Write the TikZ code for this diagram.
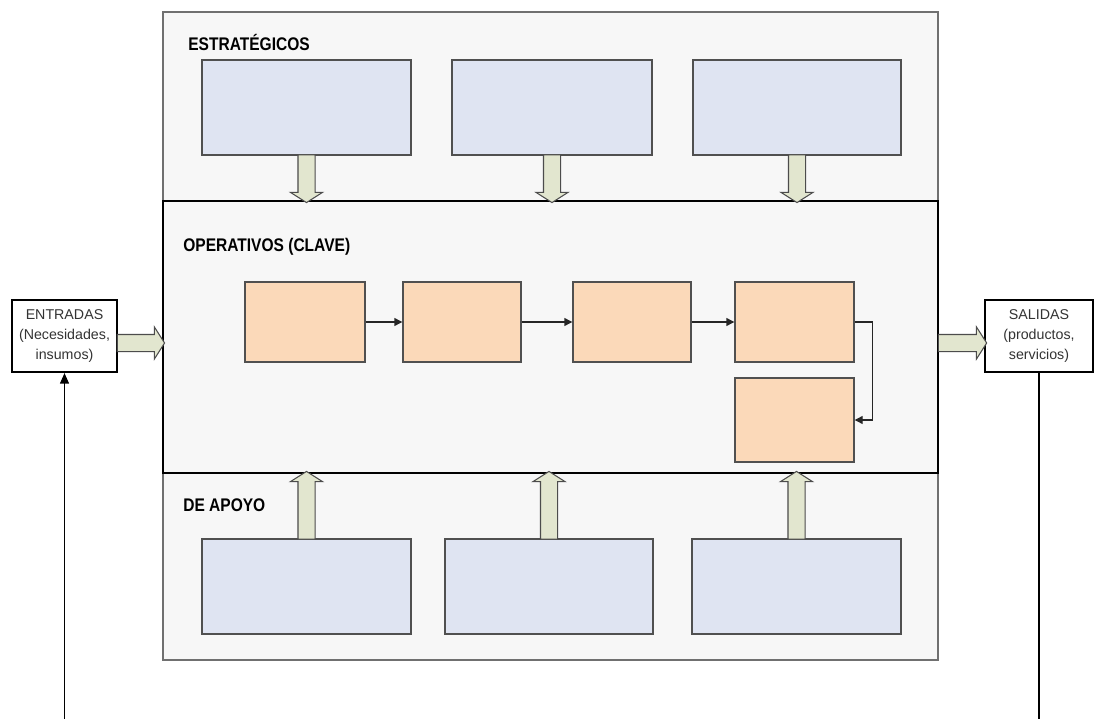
\documentclass[tikz,border=0pt]{standalone}
\usepackage{fontspec}
\setmainfont{Liberation Sans}
\newfontfamily\tagfont[FakeStretch=0.85]{Liberation Sans}
\usetikzlibrary{arrows.meta,calc,shapes.arrows}
\definecolor{framefill}{HTML}{F7F7F7}
\definecolor{framedraw}{HTML}{707070}
\definecolor{bluebox}{HTML}{DFE4F2}
\definecolor{peachbox}{HTML}{FBD9B9}
\definecolor{arrowfill}{HTML}{E2E6CF}
\definecolor{boxdraw}{HTML}{505050}
\newdimen\px
\px=0.02cm
\newcommand{\fatarrow}[3]{%
  \path let \p1=($(#1)!-0.07cm!(#2)$), \p2=(#2), \n1={veclen(\x2-\x1,\y2-\y1)} in
    node[fatarrow, minimum height=\n1, rotate=#3] at ($(\p1)!0.5!(\p2)$) {};
}

\begin{document}
\begin{tikzpicture}[x=1\px,y=-1\px,
 tag/.style={anchor=west,inner sep=0pt,font=\tagfont\bfseries\fontsize{10.4pt}{12pt}\selectfont},
 estbox/.style={draw=boxdraw,fill=bluebox,line width=0.8pt,minimum width=209\px,minimum height=95\px},
 opbox/.style={draw=boxdraw,fill=peachbox,line width=0.8pt,minimum width=119\px,minimum height=80\px},
 iobox/.style={draw=black,fill=white,line width=1.2pt,minimum width=106\px,minimum height=72\px,
   inner sep=0pt,align=center,text=black!80,font=\fontsize{8.1pt}{11.2pt}\selectfont},
 fatarrow/.style={single arrow,draw=black!70,fill=arrowfill,line width=0.6pt,inner xsep=0pt,
   inner ysep=8\px,outer sep=0pt,single arrow head extend=7.5\px,single arrow tip angle=115},
 flow/.style={-{Triangle[length=4.5pt,width=4.5pt]},line width=0.7pt,black!85},
 feedback/.style={line width=1pt,black}]

\useasboundingbox[fill=white] (0,0) rectangle (1094,719);

% process map frame and the key process band
\node[draw=framedraw,fill=framefill,line width=1pt,minimum width=775\px,minimum height=648\px]
  (marco) at (550.5,336) {};
\node[draw=black,fill=framefill,line width=1.3pt,minimum width=775\px,minimum height=272\px]
  (oper) at (550.5,337) {};

\node[tag] (lblest) at (188,42) {ESTRATÉGICOS};
\node[tag] (lblop) at (183,247) {OPERATIVOS (CLAVE)};
\node[tag] (lblapo) at (183,505) {DE APOYO};

\node[estbox] (est1) at (306.5,107.5) {};
\node[estbox,minimum width=200\px] (est2) at (552,107.5) {};
\node[estbox,minimum width=208\px] (est3) at (797,107.5) {};
\node[estbox] (apo1) at (306.5,586.5) {};
\node[estbox,minimum width=208\px] (apo2) at (549,586.5) {};
\node[estbox] (apo3) at (796.5,586.5) {};

\node[opbox,minimum width=120\px] (op1) at (305,322) {};
\node[opbox,minimum width=118\px] (op2) at (462,322) {};
\node[opbox,minimum width=118\px] (op3) at (632,322) {};
\node[opbox] (op4) at (794.5,322) {};
\node[opbox,minimum height=84\px] (op5) at (794.5,420) {};

\draw[flow] (op1) -- (op2);
\draw[flow] (op2) -- (op3);
\draw[flow] (op3) -- (op4);
\draw[flow] (op4.east) -- ++(18,0) |- (op5.east);

\node[iobox,minimum width=105\px] (ent) at (64.5,336) {ENTRADAS\\(Necesidades,\\insumos)};
\node[iobox,minimum width=108\px] (sal) at (1039,336) {SALIDAS\\(productos,\\servicios)};

\foreach \blk in {est1,est2,est3}{
  \fatarrow{\blk.south}{\blk.south |- oper.north}{-90}
}
\foreach \blk in {apo1,apo2,apo3}{
  \fatarrow{\blk.north}{\blk.north |- oper.south}{90}
}
\coordinate (entout) at ($(ent.east)+(0,7)$);
\coordinate (salout) at ($(sal.west)+(0,7)$);
\fatarrow{entout}{entout -| oper.west}{0}
\fatarrow{salout -| oper.east}{salout}{0}

\coordinate (base) at (0,719);
\draw[feedback,-{Triangle[length=6pt,width=5pt]}] (ent.south |- base) -- (ent.south);
\draw[feedback] (sal.south) -- (sal.south |- base);
\end{tikzpicture}
\end{document}
